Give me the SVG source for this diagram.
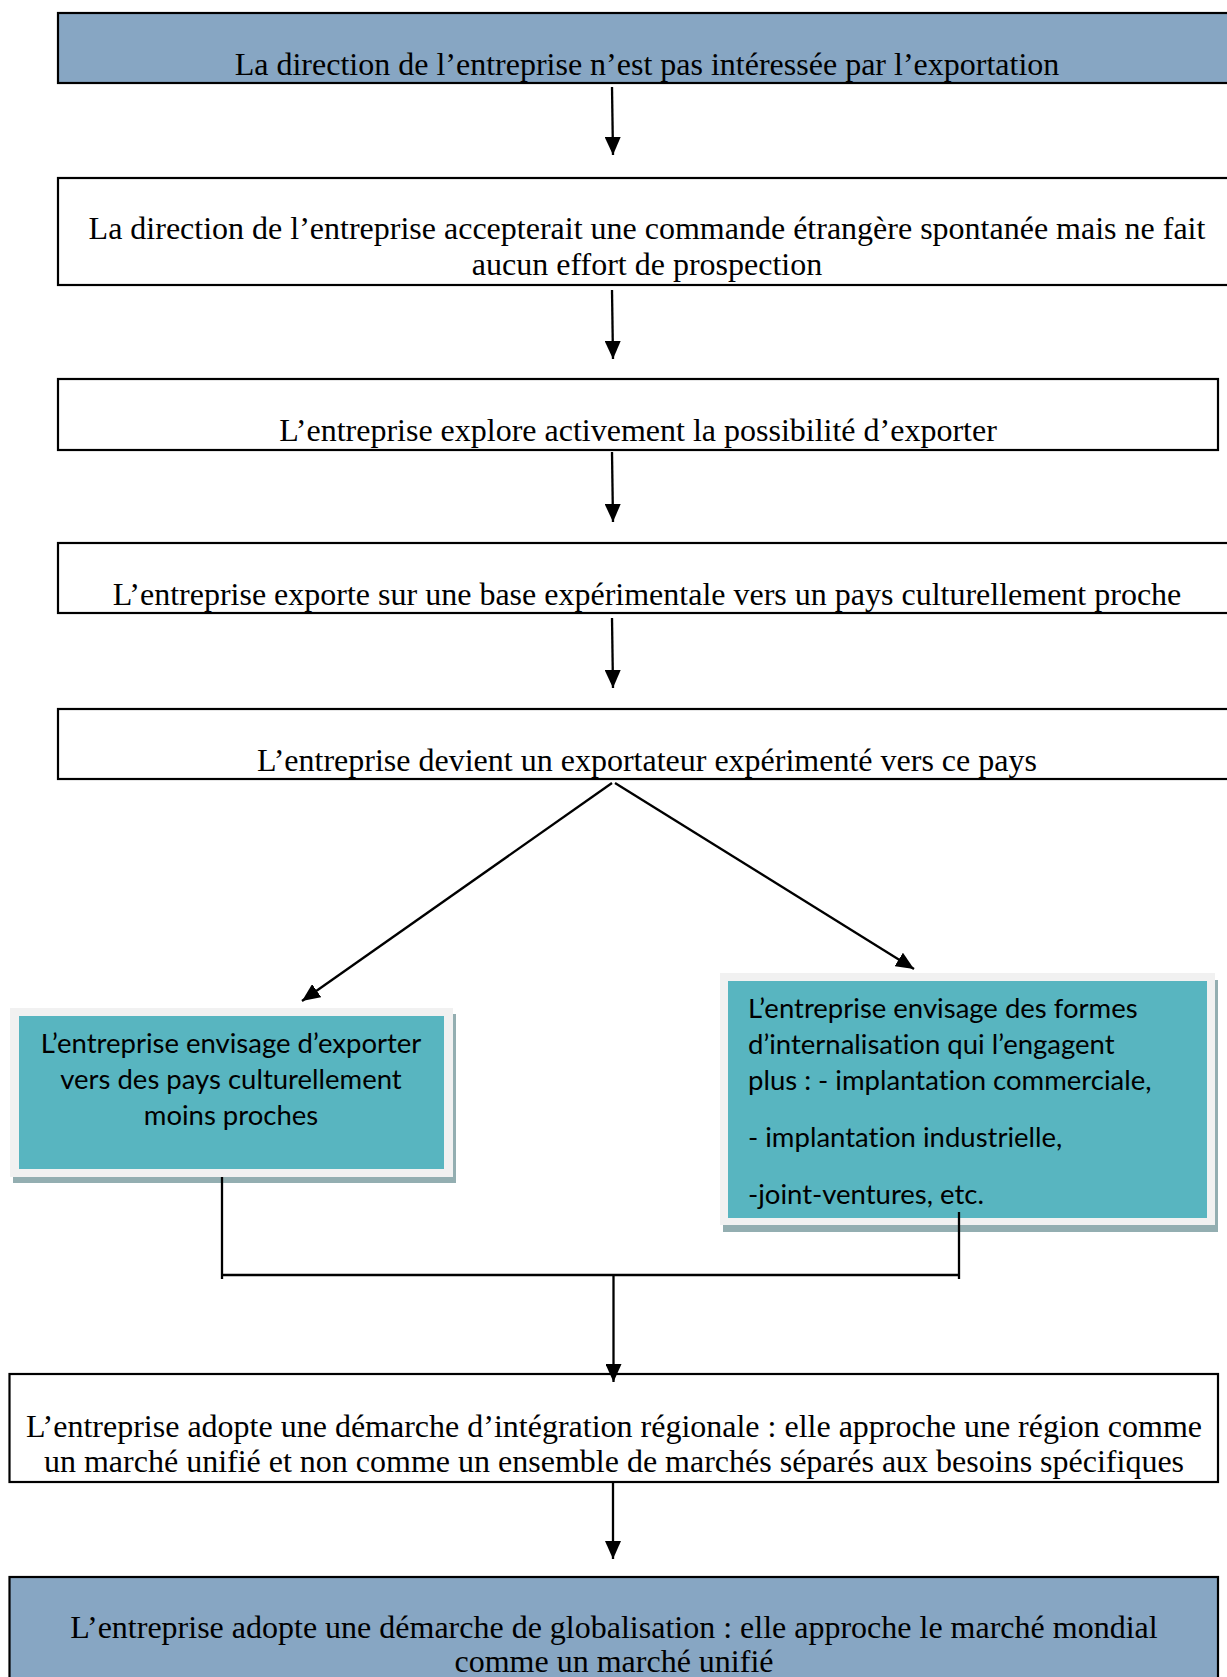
<svg xmlns="http://www.w3.org/2000/svg" width="1227" height="1677" viewBox="0 0 1227 1677">
<style>
.box{stroke:#000;stroke-width:2.2}
.white{fill:#fff}
.blue{fill:#87a6c3}
.serif{font-family:"Liberation Serif","Times New Roman",serif;font-size:32px;fill:#000;text-anchor:middle}
.sans{font-family:Lato,"Open Sans",sans-serif;font-size:27.5px;fill:#000;font-variant-ligatures:none}
.frame{fill:#f1f1f1}
.shadow{fill:#93aeb1}
.teal{fill:#58b5c0}
.ln{stroke:#000;stroke-width:2.3;fill:none}
</style>
<defs>
<marker id="ah" markerUnits="userSpaceOnUse" markerWidth="18" markerHeight="16" viewBox="0 0 18 16" refX="18" refY="8" orient="auto">
<path d="M0,0 L18,8 L0,16 z" fill="#000"/>
</marker>
</defs>
<rect width="1227" height="1677" fill="#fff"/>
<g id="n1">
<rect class="box blue" x="58" y="13" width="1180" height="70"/>
<text class="serif" x="647" y="75">La direction de l’entreprise n’est pas intéressée par l’exportation</text>
</g>
<g id="n2">
<rect class="box white" x="58" y="178" width="1180" height="107"/>
<text class="serif" x="647" y="239">La direction de l’entreprise accepterait une commande étrangère spontanée mais ne fait</text>
<text class="serif" x="647" y="275">aucun effort de prospection</text>
</g>
<g id="n3">
<rect class="box white" x="58" y="379" width="1160" height="71"/>
<text class="serif" x="638" y="441">L’entreprise explore activement la possibilité d’exporter</text>
</g>
<g id="n4">
<rect class="box white" x="58" y="543" width="1180" height="70"/>
<text class="serif" x="647" y="605">L’entreprise exporte sur une base expérimentale vers un pays culturellement proche</text>
</g>
<g id="n5">
<rect class="box white" x="58" y="709" width="1180" height="70"/>
<text class="serif" x="647" y="771">L’entreprise devient un exportateur expérimenté vers ce pays</text>
</g>
<g id="n6">
<rect class="shadow" x="13" y="1014" width="443" height="169"/>
<rect class="frame" x="10" y="1008" width="443" height="169"/>
<rect class="teal" x="19" y="1016" width="425" height="153"/>
<text class="sans" x="231" y="1053" text-anchor="middle">L’entreprise envisage d’exporter</text>
<text class="sans" x="231" y="1089" text-anchor="middle">vers des pays culturellement</text>
<text class="sans" x="231" y="1125" text-anchor="middle">moins proches</text>
</g>
<g id="n7">
<rect class="shadow" x="723" y="980" width="495" height="252"/>
<rect class="frame" x="720" y="973" width="495" height="252"/>
<rect class="teal" x="728" y="981" width="479" height="237"/>
<text class="sans" x="748" y="1018">L’entreprise envisage des formes</text>
<text class="sans" x="748" y="1054">d’internalisation qui l’engagent</text>
<text class="sans" x="748" y="1090">plus : - implantation commerciale,</text>
<text class="sans" x="748" y="1147">- implantation industrielle,</text>
<text class="sans" x="748" y="1204">-joint-ventures, etc.</text>
</g>
<g id="n8">
<rect class="box white" x="9.5" y="1374" width="1208.5" height="108"/>
<text class="serif" x="614" y="1437">L’entreprise adopte une démarche d’intégration régionale : elle approche une région comme</text>
<text class="serif" x="614" y="1472">un marché unifié et non comme un ensemble de marchés séparés aux besoins spécifiques</text>
</g>
<g id="n9">
<rect class="box blue" x="9.5" y="1577" width="1208.5" height="120"/>
<text class="serif" x="614" y="1638">L’entreprise adopte une démarche de globalisation : elle approche le marché mondial</text>
<text class="serif" x="614" y="1672">comme un marché unifié</text>
</g>
<g id="connectors">
<line class="ln" x1="612" y1="87" x2="613" y2="155" marker-end="url(#ah)"/>
<line class="ln" x1="612" y1="290" x2="613" y2="359" marker-end="url(#ah)"/>
<line class="ln" x1="612" y1="452" x2="613" y2="522" marker-end="url(#ah)"/>
<line class="ln" x1="612" y1="618" x2="613" y2="688" marker-end="url(#ah)"/>
<line class="ln" x1="612" y1="783" x2="302" y2="1001" marker-end="url(#ah)"/>
<line class="ln" x1="615" y1="783" x2="914" y2="969" marker-end="url(#ah)"/>
<line class="ln" x1="222" y1="1177" x2="222" y2="1279"/>
<line class="ln" x1="959" y1="1212" x2="959" y2="1279"/>
<line class="ln" x1="222" y1="1275" x2="959" y2="1275" style="stroke-width:2.6"/>
<line class="ln" x1="613.5" y1="1275" x2="613.5" y2="1382" marker-end="url(#ah)"/>
<line class="ln" x1="613" y1="1483" x2="613" y2="1559" marker-end="url(#ah)"/>
</g>
</svg>
